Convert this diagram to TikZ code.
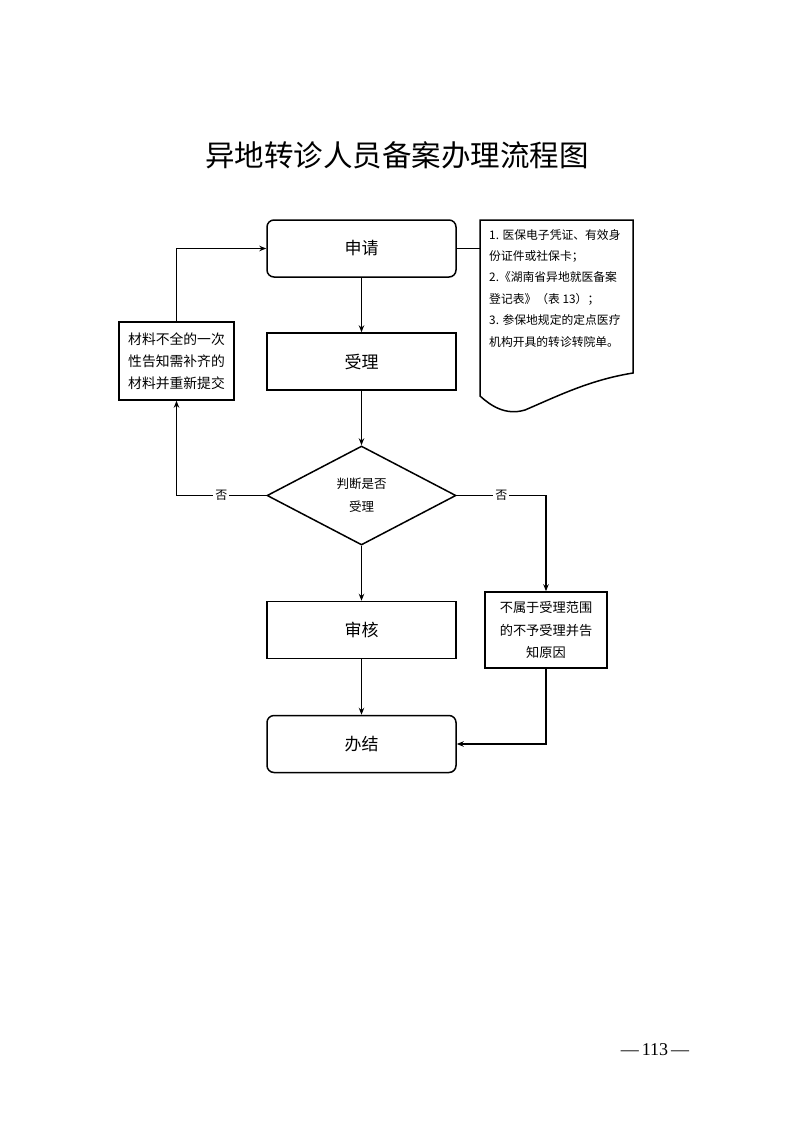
\documentclass[tikz,border=0pt]{standalone}
\usepackage{fontspec}
\setmainfont{Liberation Serif}
\newfontfamily\cjk{Noto Sans CJK SC}
\usetikzlibrary{arrows.meta,shapes.geometric}
\begin{document}
\begin{tikzpicture}[x=1pt,y=-1pt,
  every node/.style={font=\cjk},
  line/.style={line width=1.5pt},
  arr/.style={line width=1.5pt,-{Stealth[length=7pt,width=5.5pt]}},
  bigbox/.style={draw,line width=1.5pt,minimum width=189pt,minimum height=57pt,font=\cjk\fontsize{17}{20}\selectfont},
  rbox/.style={bigbox,rounded corners=7pt},
  smallbox/.style={draw,line width=1.5pt,align=center,inner sep=0pt},
  lab/.style={fill=white,inner sep=2pt,font=\cjk\fontsize{12}{14}\selectfont}]
\useasboundingbox (0,0) rectangle (793,1122);
\fill[white] (0,0) rectangle (793,1122);
\node (title) at (397,155) {\fontsize{29.5}{34}\selectfont 异地转诊人员备案办理流程图};
\node[rbox] (apply) at (361.5,248.5) {申请};
\node[bigbox] (accept) at (361.5,361.5) {受理};
\node[draw,line width=1.5pt,diamond,aspect=1.9,minimum width=189pt,minimum height=99pt,inner sep=0pt,align=center,font=\cjk\fontsize{12.5}{23}\selectfont] (judge) at (361.5,495.5) {判断是否\\受理};
\node[bigbox] (review) at (361.5,630) {审核};
\node[rbox] (done) at (361.5,744) {办结};
\node[smallbox,minimum width=115pt,minimum height=78pt,font=\cjk\fontsize{13.8}{22}\selectfont] (redo) at (176.5,361) {材料不全的一次\\性告知需补齐的\\材料并重新提交};
\node[smallbox,minimum width=122pt,minimum height=76pt,font=\cjk\fontsize{13.2}{22.5}\selectfont] (reject) at (546,630) {不属于受理范围\\的不予受理并告\\知原因};
% document shape
\draw[line width=1.5pt] (480,220) -- (633,220) -- (633,373)
  .. controls (590,380) and (560,395) .. (525,410)
  .. controls (505,416) and (490,405) .. (480,396) -- cycle;
\coordinate (docl) at (480,248.5);
\node[anchor=north west,align=left,inner sep=0pt,font=\cjk\fontsize{11.8}{21.4}\selectfont] (doctext) at (489,229) {1. 医保电子凭证、有效身\\份证件或社保卡；\\2.《湖南省异地就医备案\\登记表》（表 13）；\\3. 参保地规定的定点医疗\\机构开具的转诊转院单。};
\draw[line] (apply.east) -- (docl);
% flow
\draw[arr] (apply) -- (accept);
\draw[arr] (accept) -- (judge.north);
\draw[arr] (judge.south) -- (review);
\draw[arr] (review) -- (done);
\draw[arr] (judge.west) -| (redo.south) node[lab,pos=0.25] {否};
\draw[arr] (redo.north) |- (apply.west);
\draw[arr] (judge.east) -| (reject.north) node[lab,pos=0.25] {否};
\draw[arr] (reject.south) |- (done.east);
\node[font=\fontsize{18}{20}\selectfont] (page) at (655,1050) {—\,113\,—};
\end{tikzpicture}
\end{document}
